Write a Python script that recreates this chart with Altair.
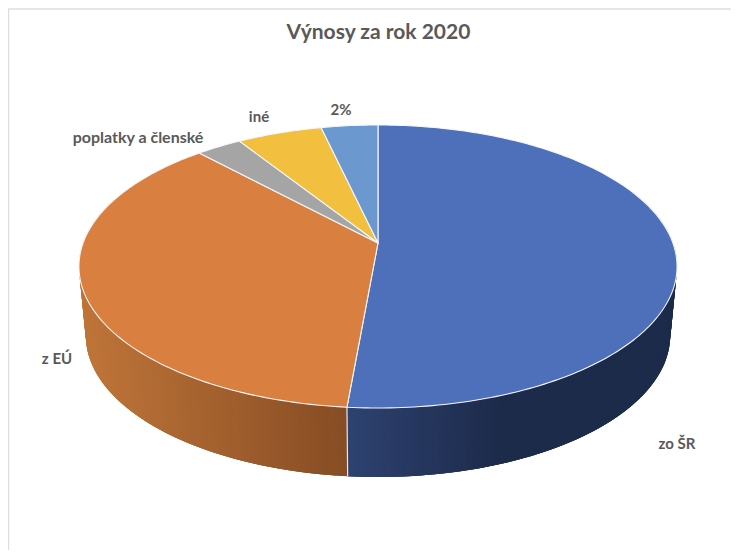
import math
import altair as alt

categories = ["zo ŠR", "z EÚ", "poplatky a členské", "iné", "2%"]
shares = [51.4, 36.7, 2.9, 5.4, 3.6]
top_colors = ["#4E70BB", "#D97F40", "#A5A5A5", "#F3BF3F", "#6A98CF"]

# page coordinates of the pie's perspective view
OX, OY = 8, 48            # origin of the plot area on the page
CX, CY = 378, 243         # projected pie centre
A, B, K = 294.9, 137.6, 0.166
DEPTH, SHRINK = 69, 0.977


def rim(deg):
    t = math.radians(deg)
    u, v = math.sin(t), math.cos(t)
    w = 1 + K * v
    return CX + A * u / w, CY - B * v / w


def low(deg):
    x, y = rim(deg)
    return CX + SHRINK * (x - CX), y + DEPTH


def local(p):
    return [round(p[0] - OX, 2), round(p[1] - OY, 2)]


def feature(points, color):
    ring = [local(p) for p in points]
    ring.append(ring[0])
    return {"type": "Feature", "properties": {"color": color, "name": ""},
            "geometry": {"type": "Polygon", "coordinates": [ring]}}


def mix(c1, c2, t):
    t = max(0.0, min(1.0, t))
    a = [int(c1[i:i + 2], 16) for i in (1, 3, 5)]
    b = [int(c2[i:i + 2], 16) for i in (1, 3, 5)]
    return "#" + "".join(f"{round(p + (q - p) * t):02x}" for p, q in zip(a, b))


bounds = [0.0]
for s in shares:
    bounds.append(bounds[-1] + s / sum(shares) * 360)

# top face
top_features = []
for i, cat in enumerate(categories):
    n = max(2, int(bounds[i + 1] - bounds[i]) + 1)
    pts = [(CX, CY)] + [rim(bounds[i] + (bounds[i + 1] - bounds[i]) * j / n) for j in range(n + 1)]
    f = feature(pts, top_colors[i])
    f["properties"]["name"] = cat
    top_features.append(f)

# side wall, shaded slice by slice; each slice overlaps the next so no seams show
split = bounds[1]
wall_features = []
deg = 70.0
while deg < 290:
    nxt = min(deg + 1.0, split) if deg < split else deg + 1.0
    far = min(deg + 3.0, split) if deg < split else min(deg + 3.0, 290.0)
    x_mid = (rim(deg)[0] + rim(nxt)[0]) / 2
    if deg < split:
        color = mix("#2E4270", "#1D2B4B", (x_mid - 348) / 150)
    else:
        color = mix("#864C24", "#BE7438", (348 - x_mid) / 260)
    steps = [deg, (deg + far) / 2, far]
    wall_features.append(feature([rim(d) for d in steps] + [low(d) for d in reversed(steps)], color))
    deg = nxt

divider = {"type": "Feature", "properties": {},
           "geometry": {"type": "LineString", "coordinates": [local(rim(split)), local(low(split))]}}

projection = dict(type="identity", scale=1, translate=[0, 0])

walls = alt.Chart(alt.Data(values=wall_features)).mark_geoshape(strokeWidth=0).encode(
    fill=alt.Fill("properties.color:N", scale=None),
).project(**projection)

div = alt.Chart(alt.Data(values=[divider])).mark_geoshape(
    filled=False, stroke="#E8E8E8", strokeWidth=1.2
).project(**projection)

tops = alt.Chart(alt.Data(values=top_features)).mark_geoshape(
    stroke="#F4F6FA", strokeWidth=1.1, strokeJoin="round"
).encode(
    fill=alt.Fill("properties.color:N", scale=None),
).project(**projection)

border_left = alt.Chart(alt.Data(values=[{"a": 0}])).mark_rule(color="#DEDEDE", strokeWidth=1.5).encode(
    x=alt.value(0.5), y=alt.value(9 - OY), y2=alt.value(502))
border_top = alt.Chart(alt.Data(values=[{"a": 0}])).mark_rule(color="#DEDEDE", strokeWidth=1.5).encode(
    x=alt.value(0), x2=alt.value(723), y=alt.value(9 - OY))


def label(text, px, py, size=15):
    return alt.Chart(alt.Data(values=[{"a": 0}])).mark_text(
        font="Lato", fontSize=size, fontWeight="bold", color="#595959", align="center", baseline="middle"
    ).encode(x=alt.value(px - OX), y=alt.value(py - OY), text=alt.value(text))


labels = [
    label("poplatky a členské", 138, 138, 16),
    label("iné", 259, 117),
    label("2%", 341, 110),
    label("z EÚ", 57, 359),
    label("zo ŠR", 677, 444),
]

chart = alt.layer(border_left, border_top, walls, div, tops, *labels).properties(
    width=723,
    height=502,
    padding={"left": 0, "top": 40, "right": 0, "bottom": 0},
    autosize=alt.AutoSizeParams(type="none"),
    title=alt.TitleParams(
        "Výnosy za rok 2020", font="Lato", fontSize=21, fontWeight="bold", color="#595959",
        anchor="middle", dx=9, offset=-35,
    ),
).configure_view(stroke=None)

chart.save("out.html", embed_options={"renderer": "svg", "actions": False})
